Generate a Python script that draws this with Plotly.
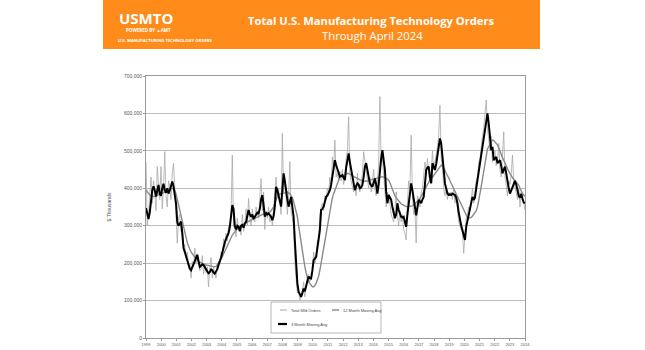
import plotly.graph_objects as go

# ---------------- data (values in thousands of the axis unit, i.e. 400 -> 400,000) ----------------
year_labels = [str(y) for y in range(1999, 2025)]
series_names = ["Total Mfd Orders", "12 Month Moving Avg", "3 Month Moving Avg"]

total_orders = [
    470, 300, 330, 400, 430, 360, 420, 390, 340, 458, 420, 370,   # 1999
    458, 345, 400, 498, 380, 350, 420, 405, 370, 440, 467, 370,   # 2000
    330, 253, 320, 330, 285, 300, 240, 250, 215, 230, 190, 200,   # 2001
    160, 205, 190, 240, 200, 225, 215, 180, 185, 220, 170, 200,   # 2002
    175, 190, 137, 185, 215, 160, 190, 170, 160, 195, 205, 200,   # 2003
    230, 215, 265, 245, 280, 260, 300, 285, 330, 489, 300, 290,   # 2004
    270, 320, 290, 300, 275, 330, 285, 300, 345, 300, 373, 320,   # 2005
    300, 345, 315, 310, 350, 330, 320, 375, 426, 340, 390, 290,   # 2006
    340, 320, 350, 310, 330, 300, 335, 390, 430, 380, 400, 350,   # 2007
    330, 547, 390, 420, 360, 330, 380, 471, 340, 320, 300, 200,   # 2008
    150, 120, 130, 101, 115, 125, 150, 110, 140, 165, 170, 150,   # 2009
    160, 175, 230, 200, 215, 260, 250, 330, 350, 360, 340, 380,   # 2010
    370, 400, 390, 430, 400, 484, 450, 529, 430, 440, 420, 445,   # 2011
    420, 450, 410, 430, 480, 500, 591, 440, 420, 400, 390, 410,   # 2012
    380, 440, 400, 390, 420, 440, 498, 470, 440, 420, 400, 430,   # 2013
    390, 420, 450, 400, 380, 420, 460, 645, 470, 480, 430, 390,   # 2014
    350, 390, 380, 360, 330, 320, 310, 340, 390, 330, 300, 340,   # 2015
    310, 330, 290, 280, 262, 360, 420, 400, 542, 380, 330, 340,   # 2016
    254, 380, 370, 350, 390, 400, 430, 470, 440, 480, 440, 420,   # 2017
    440, 500, 450, 470, 480, 511, 540, 622, 480, 460, 400, 380,   # 2018
    400, 370, 390, 380, 390, 370, 400, 360, 380, 340, 310, 300,   # 2019
    290, 280, 226, 280, 320, 330, 350, 340, 380, 400, 360, 390,   # 2020
    420, 430, 470, 480, 520, 540, 560, 600, 636, 560, 520, 500,   # 2021
    540, 470, 490, 500, 460, 470, 520, 450, 430, 480, 551, 430,   # 2022
    400, 380, 420, 410, 440, 489, 420, 400, 380, 370, 400, 350,   # 2023
    390, 380, 360, 342,                                           # 2024
]

ma12 = [
    395, 390, 385, 382, 380, 378, 378, 378, 380, 380, 382, 384,
    385, 386, 388, 390, 392, 394, 396, 398, 400, 400, 398, 395,
    385, 370, 360, 345, 330, 310, 295, 285, 270, 255, 245, 235,
    230, 225, 220, 215, 210, 208, 205, 203, 200, 198, 197, 196,
    195, 194, 193, 192, 191, 190, 190, 190, 191, 195, 200, 205,
    210, 217, 225, 233, 240, 247, 253, 260, 268, 275, 280, 285,
    288, 292, 295, 298, 300, 302, 304, 306, 308, 310, 312, 314,
    315, 316, 318, 320, 322, 323, 324, 326, 328, 330, 330, 330,
    332, 333, 334, 336, 340, 345, 350, 360, 370, 378, 382, 385,
    385, 386, 388, 390, 390, 390, 388, 386, 380, 375, 365, 350,
    340, 324, 300, 275, 253, 230, 205, 190, 175, 160, 150, 146,
    140, 137, 137, 140, 146, 155, 165, 181, 200, 225, 245, 260,
    275, 300, 320, 342, 360, 375, 385, 395, 405, 415, 425, 431,
    432, 433, 434, 436, 438, 440, 440, 438, 436, 433, 431, 430,
    428, 425, 423, 422, 420, 419, 418, 418, 418, 419, 420, 422,
    423, 424, 426, 426, 427, 428, 430, 431, 431, 431, 430, 428,
    426, 424, 422, 415, 405, 395, 386, 380, 375, 370, 365, 360,
    358, 356, 354, 352, 351, 351, 351, 351, 352, 353, 355, 358,
    362, 366, 369, 373, 378, 385, 392, 398, 405, 412, 418, 422,
    425, 430, 435, 440, 445, 449, 455, 460, 462, 460, 455, 448,
    440, 435, 428, 420, 413, 405, 398, 390, 383, 377, 370, 362,
    355, 348, 342, 335, 328, 322, 320, 320, 322, 326, 330, 333,
    340, 350, 365, 386, 405, 425, 449, 470, 490, 505, 511, 518,
    525, 529, 528, 525, 520, 516, 510, 500, 490, 480, 475, 468,
    458, 452, 445, 438, 431, 428, 424, 420, 416, 413, 408, 400,
    392, 386, 382, 378,
]

ma3 = [
    347, 330, 318, 335, 375, 395, 405, 395, 378, 400, 409, 385,
    380, 400, 412, 395, 388, 400, 386, 395, 405, 418, 405, 385,
    360, 310, 300, 305, 311, 280, 240, 230, 218, 213, 200, 185,
    181, 188, 195, 205, 215, 222, 205, 190, 193, 197, 195, 188,
    181, 178, 173, 176, 183, 181, 175, 172, 178, 184, 195, 204,
    215, 228, 244, 255, 265, 271, 280, 297, 320, 355, 345, 300,
    290, 300, 297, 285, 300, 302, 295, 306, 310, 325, 342, 330,
    324, 330, 318, 324, 328, 335, 333, 345, 370, 382, 355, 324,
    335, 330, 333, 328, 324, 315, 325, 351, 404, 395, 380, 360,
    351, 395, 440, 420, 386, 370, 351, 365, 377, 350, 324, 260,
    200, 146, 124, 118, 110, 120, 132, 125, 137, 150, 164, 160,
    159, 180, 208, 212, 217, 240, 265, 288, 342, 345, 351, 365,
    377, 380, 386, 395, 409, 430, 444, 475, 462, 449, 440, 431,
    433, 435, 428, 422, 455, 480, 493, 470, 449, 430, 409, 395,
    405, 413, 410, 400, 402, 409, 430, 458, 467, 450, 430, 413,
    408, 404, 415, 426, 410, 386, 410, 449, 480, 502, 470, 449,
    390, 360, 382, 375, 369, 350, 333, 320, 330, 360, 342, 330,
    324, 322, 324, 310, 297, 330, 360, 390, 413, 395, 377, 350,
    328, 345, 369, 365, 360, 370, 377, 410, 449, 455, 458, 430,
    413, 467, 460, 449, 465, 484, 510, 533, 520, 493, 450, 413,
    400, 386, 382, 384, 382, 386, 384, 382, 375, 360, 335, 315,
    300, 288, 275, 262, 297, 315, 333, 345, 360, 377, 369, 375,
    400, 422, 440, 458, 490, 511, 535, 556, 580, 600, 573, 540,
    502, 511, 475, 480, 484, 467, 470, 475, 460, 440, 450, 458,
    440, 413, 400, 386, 395, 405, 413, 420, 410, 395, 380, 375,
    385, 372, 362, 360,
]

y_tick_values = [0, 100, 200, 300, 400, 500, 600, 700]
y_tick_labels = ["0", "100,000", "200,000", "300,000", "400,000", "500,000", "600,000", "700,000"]

months = list(range(len(ma3)))
n_last = len(ma3) - 1

# ---------------- styling / geometry ----------------
W, H = 645, 350
L, R, T, B = 146, 525, 76, 338
line_styles = [dict(color="#a8a8a8", width=0.8),
               dict(color="#8a8a8a", width=1.4),
               dict(color="#000000", width=2.0)]


def px(x):
    return (x - L) / (R - L)


def py(y):
    return (B - y) / (B - T)


fig = go.Figure()
for name, vals, st in zip(series_names, [total_orders, ma12, ma3], line_styles):
    fig.add_trace(go.Scatter(x=months, y=vals, mode="lines", name=name, line=st,
                             showlegend=False))

tick_pos = [i * n_last / (len(year_labels) - 1) for i in range(len(year_labels))]

fig.update_layout(
    width=W, height=H,
    margin=dict(l=L, r=W - R, t=T, b=H - B, autoexpand=False),
    paper_bgcolor="white", plot_bgcolor="white",
    font=dict(family="Liberation Sans, Arial, sans-serif", color="#555555"),
    xaxis=dict(
        range=[0, n_last], tickmode="array", tickvals=tick_pos, ticktext=year_labels,
        tickfont=dict(size=4, color="#555555"), showgrid=False,
        showline=True, linecolor="#9a9a9a", linewidth=1, mirror=True,
        ticks="outside", ticklen=2, tickcolor="#9a9a9a", zeroline=False,
    ),
    yaxis=dict(
        range=[0, 700], tickmode="array", tickvals=y_tick_values, ticktext=y_tick_labels,
        tickfont=dict(size=5, color="#555555"), showgrid=True, gridcolor="#bdbdbd", gridwidth=0.8,
        showline=True, linecolor="#9a9a9a", linewidth=1, mirror=True,
        ticks="outside", ticklen=2, tickcolor="#9a9a9a", zeroline=False,
        title=dict(text="$ Thousands", font=dict(size=5, color="#555555"), standoff=12),
    ),
)

# ---- custom legend box (two entries in the first row, one in the second) ----
fig.add_shape(type="rect", xref="paper", yref="paper",
              x0=px(271), x1=px(381), y0=py(333), y1=py(302),
              fillcolor="white", line=dict(color="#9a9a9a", width=0.7), layer="above")
legend_slots = [(280, 287, 310), (332, 339, 310), (278, 287, 324)]
for (x0, x1, yy), name, st in zip(legend_slots, series_names, line_styles):
    fig.add_shape(type="line", xref="paper", yref="paper",
                  x0=px(x0), x1=px(x1), y0=py(yy), y1=py(yy),
                  line=dict(color=st["color"], width=max(st["width"], 1.0) if st["width"] < 2 else 2.2),
                  layer="above")
    fig.add_annotation(text=name, x=px(x1 + 2), y=py(yy), xref="paper", yref="paper",
                       xanchor="left", yanchor="middle", showarrow=False,
                       font=dict(size=4, color="#444444"))

# ---- header banner ----
fig.add_shape(type="rect", xref="paper", yref="paper",
              x0=px(103), x1=px(540), y0=py(49), y1=py(0),
              fillcolor="#FF8C1A", line=dict(width=0), layer="below")

ann = [
    dict(text="<b>USMTO</b>", x=px(117), y=py(18), size=15, xanchor="left"),
    dict(text="<b>POWERED BY ▲AMT</b>", x=px(124), y=py(30), size=4.5, xanchor="left"),
    dict(text="<b>U.S. MANUFACTURING TECHNOLOGY ORDERS</b>", x=px(116), y=py(41), size=4.2, xanchor="left"),
    dict(text="<b>Total U.S. Manufacturing Technology Orders</b>", x=px(371), y=py(20.5), size=11.2, xanchor="center"),
    dict(text="Through April 2024", x=px(372), y=py(36), size=11.3, xanchor="center"),
]
for a in ann:
    fig.add_annotation(text=a["text"], x=a["x"], y=a["y"], xref="paper", yref="paper",
                       xanchor=a["xanchor"], yanchor="middle", showarrow=False,
                       font=dict(size=a["size"], color="white",
                                 family="Open Sans, Liberation Sans, sans-serif"))

fig.write_html("out.html")
